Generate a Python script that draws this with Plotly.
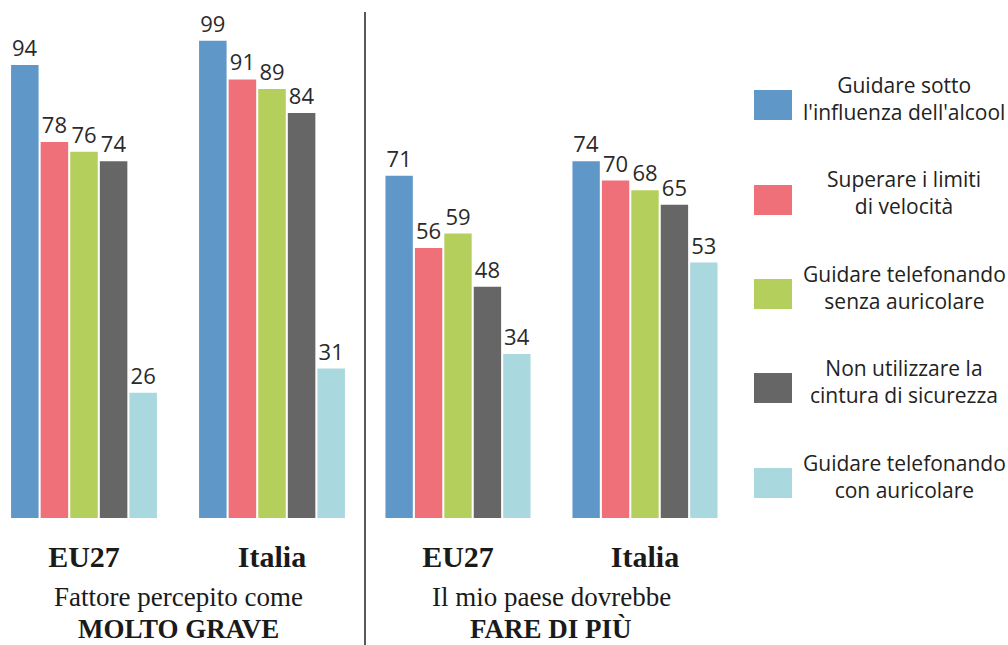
import plotly.graph_objects as go

W, H = 1008, 645

groups = ["EU27", "Italia"]
series_names = [
    "Guidare sotto<br>l'influenza dell'alcool",
    "Superare i limiti<br>di velocità",
    "Guidare telefonando<br>senza auricolare",
    "Non utilizzare la<br>cintura di sicurezza",
    "Guidare telefonando<br>con auricolare",
]
colors = ["#5f97c9", "#ef7078", "#b5cf5c", "#666666", "#a9d8df"]

# Panel 1: Fattore percepito come MOLTO GRAVE
grave_eu27 = [94, 78, 76, 74, 26]
grave_italia = [99, 91, 89, 84, 31]
# Panel 2: Il mio paese dovrebbe FARE DI PIÙ
fare_eu27 = [71, 56, 59, 48, 34]
fare_italia = [74, 70, 68, 65, 53]

panel_titles = [("Fattore percepito come", "MOLTO GRAVE"),
                ("Il mio paese dovrebbe", "FARE DI PIÙ")]

fig = go.Figure()

text_font = dict(family="Open Sans", size=22, color="#2a2a2a")

for i in range(5):
    fig.add_trace(go.Bar(
        x=groups, y=[grave_eu27[i], grave_italia[i]],
        name=series_names[i], marker=dict(color=colors[i], line=dict(width=0)),
        text=[grave_eu27[i], grave_italia[i]], textposition="outside",
        textfont=text_font, cliponaxis=False,
        xaxis="x", yaxis="y", showlegend=False,
    ))
for i in range(5):
    fig.add_trace(go.Bar(
        x=groups, y=[fare_eu27[i], fare_italia[i]],
        name=series_names[i], marker=dict(color=colors[i], line=dict(width=0)),
        text=[fare_eu27[i], fare_italia[i]], textposition="outside",
        textfont=text_font, cliponaxis=False,
        xaxis="x2", yaxis="y2", showlegend=False,
    ))

bottom = 518
ydom = [(H - bottom) / H, 1]
yr = [0, bottom / 4.82]

tickfont = dict(family="Liberation Serif", size=30, color="#1a1a1a", weight="bold")

fig.update_layout(
    width=W, height=H,
    margin=dict(l=0, r=0, t=0, b=0),
    paper_bgcolor="white", plot_bgcolor="white",
    barmode="group", bargap=0.213, bargroupgap=0.07,
    uniformtext=dict(mode=False),
    xaxis=dict(domain=[0, 360 / W], range=[-84 / 188, (360 - 84) / 188],
               showgrid=False, zeroline=False, showline=False, ticks="",
               tickfont=tickfont, ticklabelstandoff=18, fixedrange=True),
    xaxis2=dict(domain=[370 / W, 740 / W], range=[-(458 - 370) / 187, (740 - 458) / 187],
                showgrid=False, zeroline=False, showline=False, ticks="",
                tickfont=tickfont, ticklabelstandoff=18, fixedrange=True),
    yaxis=dict(domain=ydom, range=yr, visible=False, fixedrange=True),
    yaxis2=dict(domain=ydom, range=yr, visible=False, anchor="x2", fixedrange=True),
)

# separator line
fig.add_shape(type="line", xref="paper", yref="paper",
              x0=365 / W, x1=365 / W, y0=0, y1=1 - 12 / H,
              line=dict(color="#222222", width=1.5))

# panel subtitles
centers = [178, 551]
for (l1, l2), cx in zip(panel_titles, centers):
    fig.add_annotation(x=cx / W, y=1 - 597 / H, xref="paper", yref="paper",
                       text=l1, showarrow=False, xanchor="center", yanchor="middle",
                       font=dict(family="Liberation Serif", size=27, color="#1a1a1a"))
    fig.add_annotation(x=cx / W, y=1 - 629 / H, xref="paper", yref="paper",
                       text="<b>" + l2 + "</b>", showarrow=False, xanchor="center", yanchor="middle",
                       font=dict(family="Liberation Serif", size=27, color="#1a1a1a"))

# custom legend
leg_y = [105, 200, 294, 388, 483]
for name, col, yc in zip(series_names, colors, leg_y):
    fig.add_shape(type="rect", xref="paper", yref="paper",
                  x0=754 / W, x1=792 / W, y0=1 - (yc + 15) / H, y1=1 - (yc - 15) / H,
                  fillcolor=col, line=dict(width=0))
    fig.add_annotation(x=904 / W, y=1 - (yc - 7) / H, xref="paper", yref="paper",
                       text=name, showarrow=False, xanchor="center", yanchor="middle",
                       align="center",
                       font=dict(family="Open Sans", size=21, color="#222222"))

fig.write_html("out.html")
